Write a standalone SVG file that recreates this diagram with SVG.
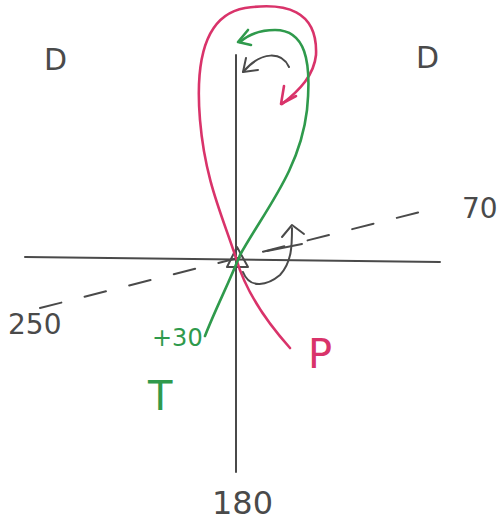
<svg xmlns="http://www.w3.org/2000/svg" width="501" height="523" viewBox="0 0 501 523">
<style>
.ink{fill:none;stroke-linecap:round;stroke-linejoin:round}
.g{stroke:#4a4a4a;stroke-width:2}
.p{stroke:#d9336a;stroke-width:2.6}
.gr{stroke:#2f9a4c;stroke-width:2.6}
.t{font-family:"DejaVu Sans","Liberation Sans",sans-serif}
</style>
<rect width="501" height="523" fill="#ffffff"/>
<g id="axes">
<path class="ink g" d="M236 55 L236 472"/>
<path class="ink g" d="M25 257 L440 262"/>
<path class="ink g" d="M40 308 L420 212" stroke-dasharray="22 24"/>
<path class="ink g" d="M237 247 L227 267 L248 267 Z"/>
</g>
<g id="curves">
<path class="ink p" d="M290 348 C265 320 245 290 236 258 C222 215 205 180 200 120 C195 60 205 15 245 8 C285 2 318 10 316 55 C314 75 300 90 282 104"/>
<path class="ink p" d="M284 86 L281 104 L296 96"/>
<path class="ink gr" d="M205 336 C215 310 228 285 240 255 C265 210 300 170 307 110 C312 60 305 30 275 30 C260 30 248 35 240 42"/>
<path class="ink gr" d="M248 30 L238 42 L251 45"/>
<path class="ink g" d="M289 67 C282 52 262 50 243 72"/>
<path class="ink g" d="M246 58 L243 72 L258 70"/>
<path class="ink g" d="M243 272 C250 290 268 285 280 275 C292 262 292 245 292 228"/>
<path class="ink g" d="M282 237 L292 225 L304 234"/>
<path class="ink g" d="M267 251 L302 244"/>
</g>
<g id="labels" class="t">
<text x="44" y="70" font-size="30" fill="#4a4a4a">D</text>
<text x="416" y="68" font-size="30" fill="#4a4a4a">D</text>
<text x="462" y="218" font-size="28" fill="#4a4a4a">70</text>
<text x="8" y="334" font-size="28" fill="#4a4a4a">250</text>
<text x="152" y="346" font-size="24" fill="#2f9a4c">+30</text>
<text x="148" y="410" font-size="40" fill="#2f9a4c">T</text>
<text x="308" y="368" font-size="40" fill="#d9336a">P</text>
<text x="212" y="514" font-size="32" fill="#4a4a4a">180</text>
</g>
</svg>
